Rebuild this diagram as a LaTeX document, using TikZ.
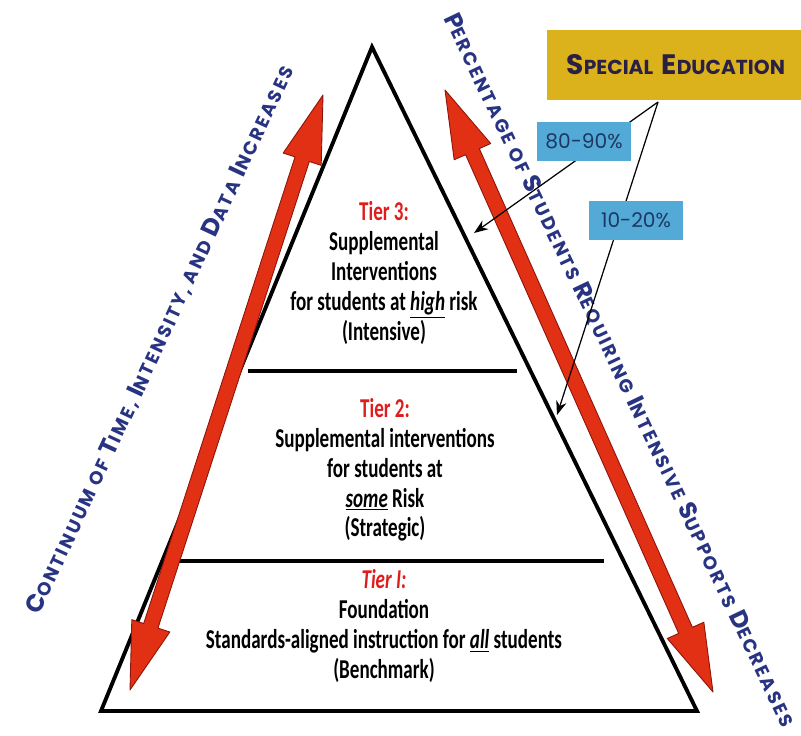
\documentclass[tikz,border=0pt]{standalone}
\usepackage{fontspec}
\setmainfont{Carlito}
\newfontfamily\tierfont{Carlito}[FakeStretch=0.7]
\newfontfamily\capfont{Poppins}[LetterSpace=12]
\newfontfamily\boxfont{Poppins}
\usetikzlibrary{calc,arrows.meta}

\definecolor{tierred}{RGB}{222,30,28}
\definecolor{arrowred}{RGB}{226,48,20}
\definecolor{arrowedge}{RGB}{140,20,10}
\definecolor{sidenavy}{RGB}{40,52,130}
\definecolor{segold}{RGB}{220,178,28}
\definecolor{sedark}{RGB}{42,32,70}
\definecolor{pctblue}{RGB}{84,170,214}
\definecolor{pcttext}{RGB}{30,55,100}

\newcommand\capl[1]{{\fontsize{14}{14}\selectfont #1}}
\newcommand\capx[1]{{\fontsize{16}{16}\selectfont #1}}
\newcommand\uit[1]{\underline{\textit{#1}}}

\newcommand\dblarrow[2]{%
  \coordinate (h1) at ($(#1)!1.35cm!(#2)$);
  \coordinate (h2) at ($(#2)!1.35cm!(#1)$);
  \path[bigarrow] (#1) -- ($(h1)!0.4cm!90:(#2)$) -- ($(h1)!0.15cm!90:(#2)$)
    -- ($(h2)!0.15cm!-90:(#1)$) -- ($(h2)!0.4cm!-90:(#1)$) -- (#2)
    -- ($(h2)!0.4cm!90:(#1)$) -- ($(h2)!0.15cm!90:(#1)$)
    -- ($(h1)!0.15cm!-90:(#2)$) -- ($(h1)!0.4cm!-90:(#2)$) -- cycle;}

\tikzset{
  tiertext/.style={font=\tierfont\bfseries\fontsize{15.5}{17}\selectfont, align=center, inner sep=0pt},
  sidetext/.style={font=\capfont\bfseries\fontsize{10.5}{10.5}\selectfont, text=sidenavy, inner sep=0pt},
  sebox/.style={fill=segold, text=sedark, font=\boxfont\bfseries\fontsize{11.5}{11.5}\selectfont,
    minimum width=5.4cm, minimum height=1.4cm, inner sep=0pt},
  pctbox/.style={fill=pctblue, text=pcttext, font=\boxfont\fontsize{11.5}{11.5}\selectfont,
    minimum width=1.88cm, minimum height=0.78cm, inner sep=0pt},
  pointer/.style={line width=0.7pt, -{Stealth[length=8pt,width=6pt]}},
  bigarrow/.style={fill=arrowred, draw=arrowedge, line width=0.5pt, line join=round}
}

\begin{document}
\begin{tikzpicture}[x=0.02cm, y=-0.02cm]

\useasboundingbox (0,0) rectangle (801,735);

\coordinate (apex) at (372,47);
\coordinate (bl) at (101,711);
\coordinate (br) at (697,711);
\draw[line width=2.2pt, line join=miter] (apex) -- (bl) -- (br) -- cycle;
\draw[line width=2pt] (248,371) -- (517,371);
\draw[line width=2pt] (178,561) -- (604,561);

\coordinate (la) at (130,690);
\coordinate (lb) at (323,95);
\dblarrow{la}{lb}
\coordinate (ra) at (445,90);
\coordinate (rb) at (713,692);
\dblarrow{ra}{rb}

\node[tiertext] (tier3) at (384,273) {{\color{tierred}Tier 3:}\\ Supplemental\\ Interventions\\ for students at \uit{high} risk\\ (Intensive)};
\node[tiertext] (tier2) at (385,470) {{\color{tierred}Tier 2:}\\ Supplemental interventions\\ for students at\\ \uit{some} Risk\\ (Strategic)};
\node[tiertext] (tier1) at (384,626) {{\color{tierred}\itshape Tier I:}\\ Foundation\\ Standards-aligned instruction for \uit{all} students\\ (Benchmark)};

\node[sidetext, rotate=65] (timetext) at (160,340) {\capl{C}ONTINUUM OF \capl{T}IME, \capl{I}NTENSITY, AND \capl{D}ATA \capl{I}NCREASES};
\node[sidetext, rotate=-64.5] (pcttext) at (620,370) {\capl{P}ERCENTAGE OF \capl{S}TUDENTS \capl{R}EQUIRING \capl{I}NTENSIVE \capl{S}UPPORTS \capl{D}ECREASES};

\coordinate (seb) at (658,102);
\coordinate (t3) at (474,233);
\coordinate (t2) at (557,415);
\draw[pointer] (seb) -- (t3);
\draw[pointer] (seb) -- (t2);

\node[sebox] (spec) at (682,65) {\hspace{-0.25cm}\capx{S}PECIAL\hspace{0.08cm} \capx{E}DUCATION};
\node[pctbox] (high) at (584,141) {80-90\%};
\node[pctbox] (some) at (636,220) {10-20\%};

\end{tikzpicture}
\end{document}
